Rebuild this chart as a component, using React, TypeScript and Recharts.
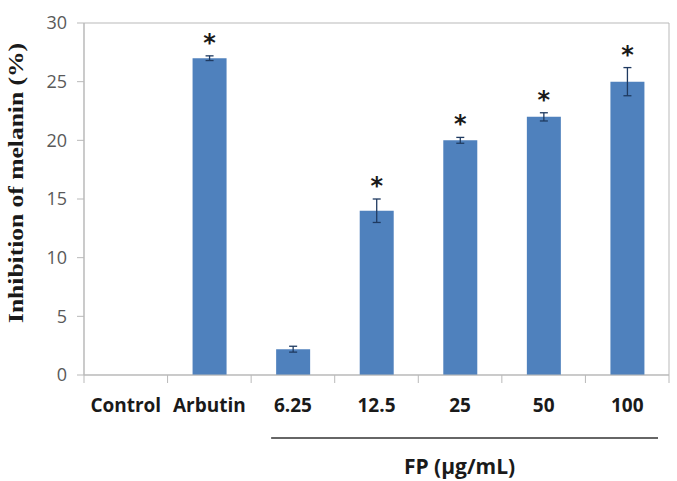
import { BarChart, Bar, XAxis, YAxis, ErrorBar, LabelList, ReferenceArea } from 'recharts';

const categories = ['Control', 'Arbutin', '6.25', '12.5', '25', '50', '100'];
const inhibition = [0, 27.0, 2.2, 14.0, 20.0, 22.0, 25.0];
const errors = [null, 0.2, 0.25, 1.0, 0.25, 0.35, 1.2];
const significant = [false, true, false, true, true, true, true];
const yTicks = [0, 5, 10, 15, 20, 25, 30];

const data = categories.map((name, i) => ({ name, value: inhibition[i], err: errors[i] }));

const W = 677;
const H = 481;
const PLOT_LEFT = 84;
const PLOT_RIGHT = 669;
const BAND = (PLOT_RIGHT - PLOT_LEFT) / categories.length;
const AXIS_GRAY = '#b9b9b9';
const SANS = '"Open Sans", "Noto Sans", sans-serif';

function XTick(props: any) {
  const { x, y, payload, index } = props;
  const left = x - BAND / 2;
  return (
    <g>
      <line x1={left} y1={y} x2={left} y2={y + 8} stroke={AXIS_GRAY} />
      {index === categories.length - 1 && (
        <line x1={left + BAND} y1={y} x2={left + BAND} y2={y + 8} stroke={AXIS_GRAY} />
      )}
      <text x={x} y={y + 37} textAnchor="middle" fontFamily={SANS} fontWeight={700} fontSize={19} fill="#1a1a1a">
        {payload.value}
      </text>
    </g>
  );
}

function GroupLabel(props: any) {
  const { viewBox } = props;
  const y0 = viewBox.y;
  const start = viewBox.x + BAND * 2 + 20;
  const end = viewBox.x + viewBox.width - 11;
  return (
    <g>
      <line x1={start} y1={y0 + 63} x2={end} y2={y0 + 63} stroke="#666" strokeWidth={2} />
      <text x={(start + end) / 2 - 5} y={y0 + 99} textAnchor="middle" fontFamily={SANS} fontWeight={700} fontSize={21} fill="#1a1a1a">
        FP (µg/mL)
      </text>
    </g>
  );
}

function Star(props: any) {
  const { x, y, width, height, value } = props;
  const i = categories.indexOf(value);
  if (i < 0 || !significant[i]) return null;
  const v = inhibition[i];
  const e = errors[i] ?? 0;
  const errTop = y - (v > 0 ? (e * height) / v : 0);
  return (
    <text x={x + width / 2} y={errTop - 5} textAnchor="middle" fontFamily="DejaVu Sans" fontWeight={700} fontSize={24} fill="#1a1a1a">
      *
    </text>
  );
}

function YTitle() {
  return (
    <text
      x={15}
      y={183}
      transform="rotate(-90, 15, 183)"
      textAnchor="middle"
      dominantBaseline="central"
      fontFamily='"Liberation Serif", serif'
      fontWeight={700}
      fontSize={22}
      textLength={280}
      lengthAdjust="spacingAndGlyphs"
      fill="#1a1a1a"
    >
      Inhibition of melanin (%)
    </text>
  );
}

export default function App() {
  return (
    <div style={{ position: 'absolute', left: 0, top: 0, width: W, height: H, background: '#fff' }}>
      <BarChart width={W} height={H} data={data} margin={{ top: 23, right: W - PLOT_RIGHT, left: 0, bottom: 76 }} barSize={34}>
        <ReferenceArea y1={0} y2={30} fill="none" stroke={AXIS_GRAY} strokeWidth={1} />
        <XAxis
          dataKey="name"
          interval={0}
          height={30}
          tickSize={0}
          tickMargin={0}
          tickLine={false}
          axisLine={{ stroke: AXIS_GRAY }}
          tick={<XTick />}
          label={<GroupLabel />}
        />
        <YAxis
          width={PLOT_LEFT}
          domain={[0, 30]}
          ticks={yTicks}
          tickSize={7}
          tickMargin={10}
          axisLine={{ stroke: AXIS_GRAY }}
          tickLine={{ stroke: AXIS_GRAY }}
          tick={{ fill: '#595959', fontSize: 18, fontFamily: SANS }}
          label={<YTitle />}
        />
        <Bar dataKey="value" fill="#4f81bd" isAnimationActive={false}>
          <ErrorBar dataKey="err" width={4} stroke="#1f3a60" strokeWidth={1.3} direction="y" />
          <LabelList dataKey="name" content={<Star />} />
        </Bar>
      </BarChart>
    </div>
  );
}
